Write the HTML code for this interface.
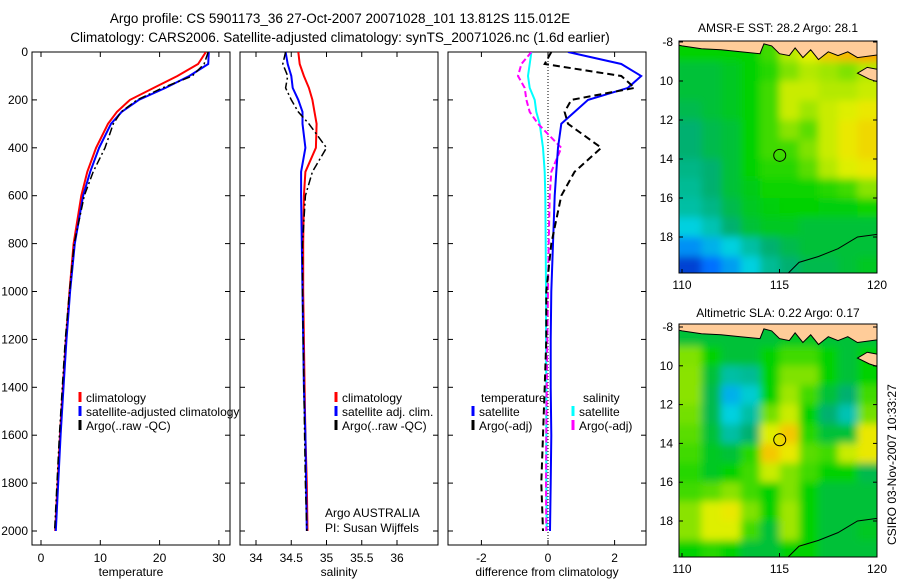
<!DOCTYPE html>
<html><head><meta charset="utf-8"><style>
body{margin:0;background:#fff;}
svg{font-family:"Liberation Sans",sans-serif;}
</style></head><body>
<svg id="fig" width="900" height="580" viewBox="0 0 900 580" xmlns="http://www.w3.org/2000/svg">
<defs>
<filter id="blur" x="0" y="0" width="1" height="1"><feGaussianBlur stdDeviation="4"/></filter>
<clipPath id="c1"><rect x="679" y="41" width="198" height="232"/></clipPath>
<clipPath id="c2"><rect x="679" y="324" width="198" height="233"/></clipPath>
<clipPath id="p1"><rect x="32" y="52" width="198" height="493"/></clipPath>
<clipPath id="p2"><rect x="240" y="52" width="198" height="493"/></clipPath>
<clipPath id="p3"><rect x="448" y="52" width="198" height="493"/></clipPath>
</defs>
<text x="340" y="23" font-size="13.5" text-anchor="middle">Argo profile: CS 5901173_36 27-Oct-2007 20071028_101 13.812S 115.012E</text>
<text x="340" y="42" font-size="13.5" text-anchor="middle">Climatology: CARS2006. Satellite-adjusted climatology: synTS_20071026.nc (1.6d earlier)</text>
<g id="g"></g>
<text x="778" y="32" font-size="12" text-anchor="middle">AMSR-E SST: 28.2 Argo: 28.1</text>
<text x="778" y="317" font-size="12" text-anchor="middle">Altimetric SLA: 0.22 Argo: 0.17</text>
<text transform="translate(896,545) rotate(-90)" font-size="12">CSIRO 03-Nov-2007 10:33:27</text>
</svg>
<script>
// ---- data ----
const depths = [0,50,100,150,200,250,300,400,500,600,800,1000,1200,1400,1600,1800,2000];
const tempClim = [27.8,26.5,23,19,15,12.8,11.3,9.3,7.8,6.8,5.5,4.8,4.2,3.7,3.2,2.8,2.4];
const tempSat  = [28.3,28.2,25,21,16.5,13.6,11.8,9.8,8.3,7.1,5.7,4.9,4.3,3.8,3.3,2.9,2.5];
const tempArgo = [28.2,27.5,25.5,20.5,16.2,13.5,12.2,10.8,8.8,7.3,5.6,4.8,4.1,3.6,3.1,2.7,2.3];
const salClim = [34.6,34.62,34.68,34.75,34.8,34.83,34.86,34.85,34.7,34.68,34.67,34.67,34.68,34.69,34.7,34.72,34.73];
const salSat  = [34.42,34.45,34.5,34.52,34.6,34.66,34.66,34.7,34.64,34.64,34.65,34.66,34.67,34.68,34.7,34.71,34.72];
const salArgo = [34.42,34.38,34.45,34.42,34.5,34.6,34.75,35.0,34.8,34.7,34.66,34.66,34.67,34.68,34.69,34.7,34.72];
const dTempSat  = [0.6,2.2,2.8,2.4,1.2,0.8,0.4,0.3,0.25,0.2,0.15,0.1,0.08,0.08,0.1,0.08,0.06];
const dTempArgo = [0.1,-0.1,2.2,2.6,0.7,0.5,0.6,1.6,0.8,0.4,0.1,-0.05,-0.05,-0.1,-0.15,-0.2,-0.15];
const dSalSat  = [-0.5,-0.55,-0.6,-0.55,-0.4,-0.35,-0.25,-0.15,-0.1,-0.08,-0.07,-0.06,-0.06,-0.05,-0.05,-0.05,-0.04];
const dSalArgo = [-0.5,-0.8,-0.9,-0.7,-0.65,-0.55,-0.3,0.4,0.1,0.05,0.02,0.0,-0.02,-0.04,-0.05,-0.06,-0.05];
const depthTicks = [0,200,400,600,800,1000,1200,1400,1600,1800,2000];
const tTicks = [0,10,20,30];
const sTicks = [34,34.5,35,35.5,36];
const sTickLabels = ["34","34.5","35","35.5","36"];
const dTicks = [-2,0,2];
const lonTicks = [110,115,120];
const latTicks = [-8,-10,-12,-14,-16,-18];
const sstGrid = [
[.55,.55,.55,.55,.6,.7,.75,.8,.82,.85],
[.5,.5,.52,.55,.58,.65,.7,.68,.65,.7],
[.5,.5,.52,.55,.6,.72,.72,.7,.7,.72],
[.48,.5,.52,.55,.6,.72,.68,.72,.74,.76],
[.45,.48,.5,.55,.6,.66,.62,.72,.76,.78],
[.45,.48,.5,.55,.6,.6,.65,.72,.76,.78],
[.42,.45,.5,.55,.58,.58,.62,.7,.74,.76],
[.4,.45,.5,.53,.56,.56,.56,.58,.6,.66],
[.38,.42,.48,.52,.54,.55,.55,.54,.54,.56],
[.3,.36,.45,.5,.52,.52,.5,.5,.5,.5],
[.2,.25,.3,.38,.45,.48,.5,.5,.5,.5],
[.08,.15,.22,.3,.4,.45,.48,.48,.5,.52]];
const slaGrid = [
[.5,.5,.5,.5,.5,.52,.52,.5,.5,.5],
[.65,.55,.5,.5,.55,.6,.6,.55,.5,.55],
[.66,.5,.38,.4,.55,.65,.65,.55,.5,.55],
[.66,.48,.25,.32,.55,.68,.6,.5,.45,.6],
[.64,.48,.3,.38,.64,.72,.55,.45,.36,.64],
[.62,.5,.38,.45,.74,.8,.58,.5,.5,.76],
[.6,.52,.5,.58,.8,.76,.62,.6,.72,.76],
[.58,.52,.55,.6,.72,.65,.6,.55,.55,.48],
[.6,.62,.66,.6,.55,.65,.55,.5,.5,.5],
[.66,.74,.76,.65,.55,.68,.55,.5,.5,.5],
[.66,.74,.74,.6,.5,.68,.55,.5,.5,.52],
[.55,.58,.55,.5,.5,.55,.55,.5,.5,.5]];
const argoLon = 115.012, argoLat = -13.812;

// ---- helpers ----
const NS="http://www.w3.org/2000/svg", G=document.getElementById('g');
function mk(tag,attrs,parent){const e=document.createElementNS(NS,tag);for(const k in attrs)e.setAttribute(k,attrs[k]);(parent||G).appendChild(e);return e;}
const yD = d => 52 + d*0.2395;
const xT = v => 41 + v*5.93;
const xS = v => 256 + (v-34)*70.5;
const xD = v => 548 + v*33.3;
const lonX = v => 682 + (v-110)*19.5;
const latY1 = v => 42 + (-8-v)*19.5;
const latY2 = v => 327 + (-8-v)*19.4;

function axesBox(x0,name,xt,xfun,xlabels,xtitle,leftLabels){
  const r=mk('rect',{x:x0,y:52,width:198,height:493,fill:'none',stroke:'#000','stroke-width':1});
  
  
  depthTicks.forEach(d=>{
    const y=yD(d);
    mk('line',{x1:x0,x2:x0+5,y1:y,y2:y,stroke:'#000'});
    mk('line',{x1:x0+198,x2:x0+193,y1:y,y2:y,stroke:'#000'});
    if(leftLabels){const t=mk('text',{x:x0-4,y:y+4,'font-size':12,'text-anchor':'end'});t.textContent=d;
      
      }
  });
  xt.forEach((v,i)=>{
    const x=xfun(v);
    mk('line',{x1:x,x2:x,y1:545,y2:540,stroke:'#000'});
    mk('line',{x1:x,x2:x,y1:52,y2:57,stroke:'#000'});
    const t=mk('text',{x:x,y:562,'font-size':12,'text-anchor':'middle'});t.textContent=xlabels[i];
    
    
  });
  const t=mk('text',{x:x0+99,y:576,'font-size':12,'text-anchor':'middle'});t.textContent=xtitle;
  
  
}
function line(vals,xfun,color,w,dash,clip,name){
  const pts=vals.map((v,i)=>xfun(v).toFixed(1)+','+yD(depths[i]).toFixed(1)).join(' ');
  const p=mk('polyline',{points:pts,fill:'none',stroke:color,'stroke-width':w,'clip-path':'url(#'+clip+')'});
  if(dash)p.setAttribute('stroke-dasharray',dash);
  
  
}
function legend(x,y,color,label,name){
  mk('line',{x1:x,x2:x,y1:y-10,y2:y,stroke:color,'stroke-width':3});
  const t=mk('text',{x:x+6,y:y,'font-size':12});t.textContent=label;
  
  
}

// panel 1
axesBox(32,'temperature',tTicks,xT,tTicks.map(String),'temperature',true);
line(tempClim,xT,'#f00',2,null,'p1','temp-climatology-line');
line(tempSat,xT,'#00f',2,null,'p1','temp-satellite-line');
line(tempArgo,xT,'#000',1.5,'8,3,2,3','p1','temp-argo-line');
legend(80,402,'#f00','climatology','legend-climatology');
legend(80,416,'#00f','satellite-adjusted climatology','legend-satellite-adjusted');
legend(80,430,'#000','Argo(..raw -QC)','legend-argo');
// panel 2
axesBox(240,'salinity',sTicks,xS,sTickLabels,'salinity',false);
line(salClim,xS,'#f00',2,null,'p2','sal-climatology-line');
line(salSat,xS,'#00f',2,null,'p2','sal-satellite-line');
line(salArgo,xS,'#000',1.5,'8,3,2,3','p2','sal-argo-line');
legend(336,402,'#f00','climatology','legend2-climatology');
legend(336,416,'#00f','satellite adj. clim.','legend2-satellite');
legend(336,430,'#000','Argo(..raw -QC)','legend2-argo');
let t=mk('text',{x:325,y:517,'font-size':12});t.textContent='Argo AUSTRALIA';


t=mk('text',{x:325,y:532,'font-size':12});t.textContent='PI: Susan Wijffels';


// panel 3
axesBox(448,'difference',dTicks,xD,dTicks.map(String),'difference from climatology',false);
mk('line',{x1:xD(0),x2:xD(0),y1:52,y2:545,stroke:'#000','stroke-dasharray':'1,2'});
line(dSalSat,xD,'#0ff',2,null,'p3','dsal-satellite-line');
line(dSalArgo,xD,'#f0f',2,'6,3','p3','dsal-argo-line');
line(dTempSat,xD,'#00f',2,null,'p3','dtemp-satellite-line');
line(dTempArgo,xD,'#000',2,'7,4','p3','dtemp-argo-line');
t=mk('text',{x:481,y:402,'font-size':12});t.textContent='temperature';


t=mk('text',{x:583,y:402,'font-size':12});t.textContent='salinity';


legend(473,416,'#00f','satellite','legend3-temp-satellite');
legend(473,430,'#000','Argo(-adj)','legend3-temp-argo');
legend(573,416,'#0ff','satellite','legend3-sal-satellite');
legend(573,430,'#f0f','Argo(-adj)','legend3-sal-argo');

// ---- maps ----
const stops=[[0,[0,16,160]],[.15,[0,112,255]],[.3,[0,208,224]],[.45,[0,176,112]],[.55,[0,210,0]],[.65,[128,226,0]],[.75,[232,240,0]],[.85,[255,160,0]],[1,[224,64,0]]];
function cmap(v){for(let i=1;i<stops.length;i++){if(v<=stops[i][0]){const a=stops[i-1],b=stops[i],f=(v-a[0])/(b[0]-a[0]);return 'rgb('+a[1].map((c,k)=>Math.round(c+f*(b[1][k]-c))).join(',')+')';}}return 'rgb(224,64,0)';}
function drawMap(grid,latY,clip,name,top,bot){
  const gg=mk('g',{'clip-path':'url(#'+clip+')'});
  
  
  const inner=mk('g',{filter:'url(#blur)'},gg);
  grid.forEach((row,r)=>row.forEach((v,c)=>{
    const x0=lonX(110+c)-(c==0?10:0), x1=lonX(111+c)+(c==9?10:0);
    const y0=latY(-8-r)-(r==0?10:0), y1=latY(-9-r)+(r==11?12:0);
    const cell=mk('rect',{x:x0,y:y0,width:x1-x0+0.5,height:y1-y0+0.5,fill:cmap(v)},inner);
    
    
  }));
  const land=[[109,-7],[109,-8],[110,-8.2],[111,-8.35],[112,-8.4],[113,-8.5],[114,-8.6],[114.2,-8.1],[114.6,-8.2],[115,-8.6],[115.5,-8.7],[115.8,-8.3],[116.2,-8.8],[116.6,-8.4],[117,-8.9],[117.5,-8.5],[118,-8.7],[118.5,-8.5],[119,-8.8],[120.5,-8.6],[120.5,-7]];
  const pts=land.map(p=>lonX(p[0]).toFixed(1)+','+latY(p[1]).toFixed(1)).join(' ');
  const L=mk('polygon',{points:pts,fill:'#fc9',stroke:'#000','stroke-width':1},gg);
  
  
  const isl=[[119,-9.6],[119.5,-9.3],[120.5,-9.5],[120.5,-10.2],[119.6,-9.9]];
  const I=mk('polygon',{points:isl.map(p=>lonX(p[0])+','+latY(p[1])).join(' '),fill:'#fc9',stroke:'#000'},gg);
  
  
  const cst=[[115.3,-20],[116,-19.3],[117,-19],[118,-18.6],[119,-18],[120.5,-17.8]];
  const C=mk('polyline',{points:cst.map(p=>lonX(p[0])+','+latY(p[1])).join(' '),fill:'none',stroke:'#000'},gg);
  
  
  const circ=mk('circle',{cx:lonX(argoLon),cy:latY(argoLat),r:6,fill:'none',stroke:'#000'},gg);
  
  
  mk('rect',{x:679,y:top,width:198,height:bot-top,fill:'none',stroke:'#000'});
  latTicks.forEach(v=>{const y=latY(v);
    mk('line',{x1:679,x2:683,y1:y,y2:y,stroke:'#000'});mk('line',{x1:877,x2:873,y1:y,y2:y,stroke:'#000'});
    const tx=mk('text',{x:673,y:y+4,'font-size':12,'text-anchor':'end'});tx.textContent=(v==-8?'-8':String(-v));
    
    });
  lonTicks.forEach(v=>{const x=lonX(v);
    mk('line',{x1:x,x2:x,y1:bot,y2:bot-4,stroke:'#000'});
    const tx=mk('text',{x:x,y:bot+16,'font-size':12,'text-anchor':'middle'});tx.textContent=v;
    
    });
}
drawMap(sstGrid,latY1,'c1','sst-map',41,273);
drawMap(slaGrid,latY2,'c2','sla-map',324,557);
</script>
</body></html>
